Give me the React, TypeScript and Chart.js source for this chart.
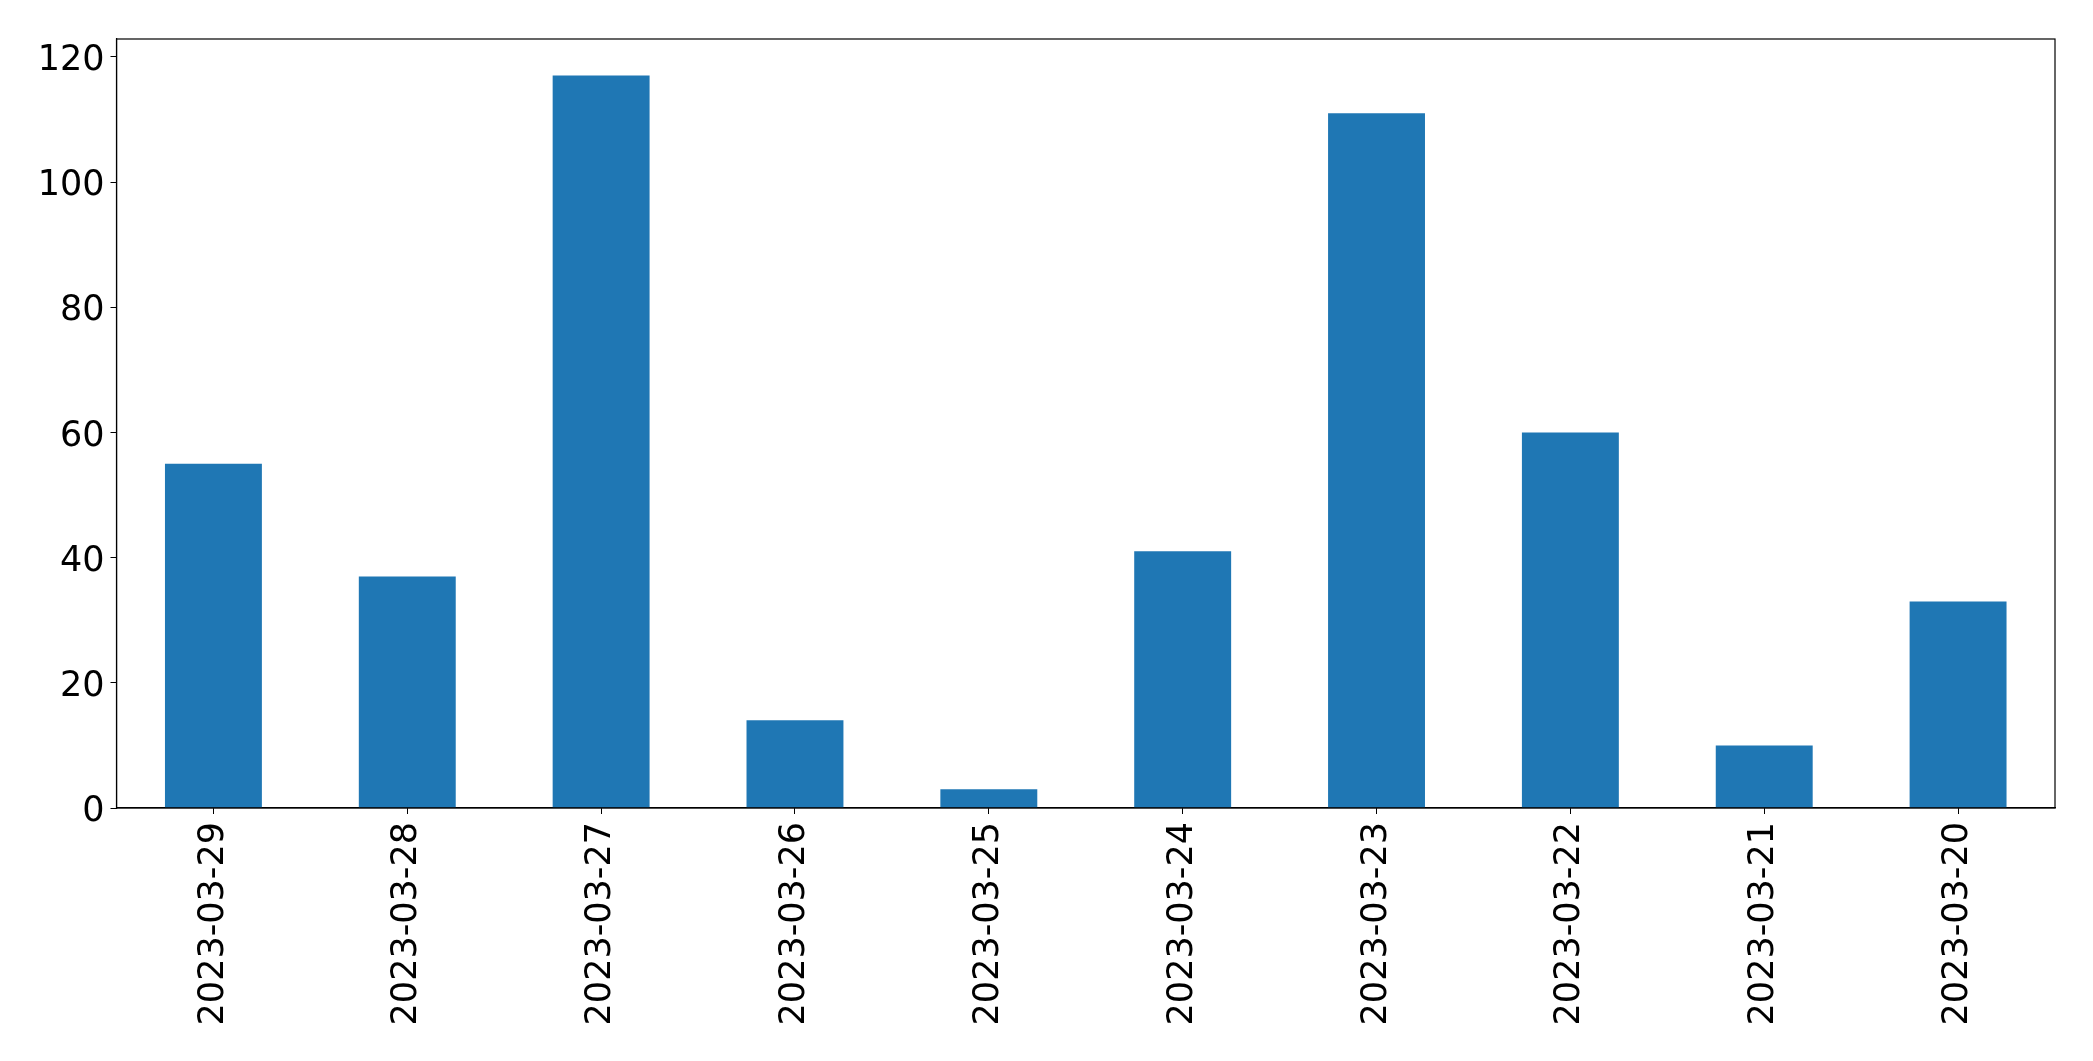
import React, { useEffect, useRef } from "react";
import { Chart, registerables } from "chart.js";

Chart.register(...registerables);

const categories = [
  "2023-03-29",
  "2023-03-28",
  "2023-03-27",
  "2023-03-26",
  "2023-03-25",
  "2023-03-24",
  "2023-03-23",
  "2023-03-22",
  "2023-03-21",
  "2023-03-20",
];
const values = [55, 37, 117, 14, 3, 41, 111, 60, 10, 33];
const yTicks = [0, 20, 40, 60, 80, 100, 120];
const yMax = 122.85;

const framePlugin = {
  id: "frame",
  afterDraw(chart: any) {
    const { ctx, chartArea } = chart;
    ctx.save();
    ctx.strokeStyle = "#000";
    ctx.lineWidth = 1.2;
    ctx.strokeRect(chartArea.left, chartArea.top, chartArea.right - chartArea.left, chartArea.bottom - chartArea.top);
    ctx.restore();
  },
};

export default function App() {
  const ref = useRef<HTMLCanvasElement | null>(null);
  useEffect(() => {
    if (!ref.current) return;
    const font = { family: "'DejaVu Sans', sans-serif", size: 35 };
    const chart = new Chart(ref.current, {
      type: "bar",
      data: {
        labels: categories,
        datasets: [
          {
            data: values,
            backgroundColor: "#1f77b4",
            borderWidth: 0,
            categoryPercentage: 1,
            barPercentage: 0.5,
          },
        ],
      },
      options: {
        animation: false,
        responsive: false,
        maintainAspectRatio: false,
        layout: { padding: { top: 39, right: 38, left: 0, bottom: 0 } },
        plugins: { legend: { display: false }, tooltip: { enabled: false } },
        scales: {
          x: {
            offset: true,
            grid: { display: true, drawOnChartArea: false, drawTicks: true, tickLength: 6, color: "#000", offset: false },
            border: { display: true, color: "#000", width: 1.2 },
            ticks: { color: "#000", font, maxRotation: 90, minRotation: 90, autoSkip: false, padding: 8 },
            afterFit(scale: any) {
              scale.height = 253;
            },
          },
          y: {
            min: 0,
            max: yMax,
            grid: { display: true, drawOnChartArea: false, drawTicks: true, tickLength: 6, color: "#000" },
            border: { display: true, color: "#000", width: 1.2 },
            ticks: { color: "#000", font, padding: 6, labelOffset: 4 },
            afterBuildTicks(scale: any) {
              scale.ticks = yTicks.map((v) => ({ value: v }));
            },
            afterFit(scale: any) {
              scale.width = 116.5;
            },
          },
        },
      },
      plugins: [framePlugin],
    });
    return () => chart.destroy();
  }, []);
  return (
    <div style={{ position: "fixed", left: 0, top: 0, width: 2093, height: 1061, background: "#fff" }}>
      <canvas ref={ref} width={2093} height={1061} style={{ width: 2093, height: 1061, display: "block" }} />
    </div>
  );
}
